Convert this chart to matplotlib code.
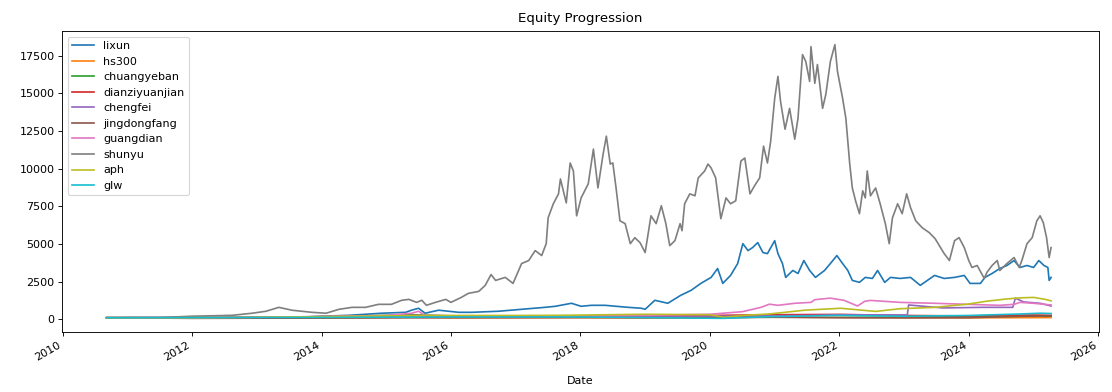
import numpy as np
import pandas as pd
from matplotlib import pyplot as plt

lixun_t = [2010.68, 2011.5, 2012.5, 2013.0, 2013.65, 2014.0, 2014.42, 2014.93, 2015.3, 2015.39,
           2015.5, 2015.6, 2015.81, 2016.12, 2016.32, 2016.73, 2017.09, 2017.45, 2017.61, 2017.86,
           2018.01, 2018.17, 2018.38, 2018.74, 2018.94, 2019.0, 2019.15, 2019.35, 2019.55, 2019.71,
           2019.86, 2020.02, 2020.12, 2020.2, 2020.32, 2020.43, 2020.51, 2020.59, 2020.66, 2020.74,
           2020.82, 2020.89, 2021.0, 2021.05, 2021.12, 2021.17, 2021.28, 2021.36, 2021.45, 2021.54,
           2021.63, 2021.77, 2021.86, 2021.96, 2022.05, 2022.13, 2022.2, 2022.31, 2022.4, 2022.51,
           2022.59, 2022.7, 2022.79, 2022.94, 2023.1, 2023.25, 2023.47, 2023.62, 2023.78, 2023.93,
           2024.02, 2024.18, 2024.25, 2024.36, 2024.48, 2024.59, 2024.7, 2024.79, 2024.9, 2025.0,
           2025.08, 2025.16, 2025.22, 2025.24, 2025.27]
lixun_v = [100, 110, 130, 150, 130, 200, 260, 400, 460, 600,
           730, 400, 600, 460, 460, 530, 660, 790, 860, 1060,
           860, 925, 925, 790, 730, 660, 1260, 1060, 1590, 1920,
           2380, 2780, 3370, 2380, 2910, 3700, 5020, 4560, 4760, 5090,
           4430, 4360, 5220, 4360, 3700, 2780, 3240, 3040, 3900, 3240,
           2780, 3240, 3700, 4230, 3700, 3240, 2580, 2450, 2780, 2710,
           3240, 2450, 2780, 2710, 2780, 2250, 2910, 2710, 2780, 2910,
           2380, 2380, 2780, 3040, 3370, 3570, 3900, 3440, 3570, 3440,
           3900, 3570, 3440, 2580, 2780]

hs300_t = [2010.68, 2012.0, 2014.0, 2015.4, 2016.0, 2018.0, 2019.0, 2021.0, 2022.0, 2024.0, 2025.27]
hs300_v = [100, 80, 75, 140, 95, 110, 85, 145, 120, 95, 110]

chuangyeban_t = [2010.68, 2012.0, 2013.5, 2015.4, 2016.0, 2018.0, 2019.0, 2020.0, 2021.0, 2022.0, 2024.0, 2025.27]
chuangyeban_v = [100, 80, 110, 300, 220, 170, 130, 200, 280, 260, 180, 210]

dianziyuanjian_t = [2010.68, 2013.0, 2015.5, 2016.0, 2018.0, 2020.0, 2021.0, 2022.0, 2023.0, 2024.0, 2025.0, 2025.27]
dianziyuanjian_v = [100, 110, 250, 180, 200, 250, 300, 320, 250, 220, 280, 260]

chengfei_t = [2010.68, 2013.0, 2015.5, 2016.0, 2018.0, 2020.0, 2021.5, 2022.0, 2023.05, 2023.07,
              2023.2, 2023.6, 2024.2, 2024.68, 2024.72, 2024.85, 2025.1, 2025.27]
chengfei_v = [100, 120, 250, 150, 150, 200, 250, 300, 280, 950,
              900, 750, 790, 790, 1400, 1150, 1060, 880]

jingdongfang_t = [2010.68, 2012.0, 2014.0, 2016.0, 2018.0, 2020.0, 2021.0, 2022.0, 2023.0, 2024.0, 2024.8, 2025.27]
jingdongfang_v = [100, 60, 80, 100, 110, 100, 130, 100, 90, 100, 200, 220]

guangdian_t = [2010.68, 2012.0, 2013.5, 2015.0, 2015.39, 2015.5, 2015.6, 2016.5, 2017.66, 2019.0,
               2020.0, 2020.5, 2020.79, 2020.92, 2021.05, 2021.31, 2021.56, 2021.62, 2021.86, 2022.07,
               2022.28, 2022.39, 2022.48, 2022.94, 2023.47, 2023.98, 2024.48, 2024.7, 2024.79, 2025.0,
               2025.27]
guangdian_v = [100, 100, 150, 250, 400, 530, 260, 200, 200, 260,
               330, 500, 790, 1000, 925, 1060, 1120, 1300, 1400, 1260,
               880, 1190, 1250, 1120, 1060, 990, 925, 990, 1120, 1060,
               950]

shunyu_t = [2010.68, 2011.0, 2011.5, 2012.0, 2012.62, 2012.93, 2013.14, 2013.34, 2013.54, 2013.85,
            2014.07, 2014.27, 2014.47, 2014.68, 2014.88, 2015.08, 2015.24, 2015.35, 2015.47, 2015.55,
            2015.62, 2015.76, 2015.92, 2016.0, 2016.16, 2016.27, 2016.43, 2016.53, 2016.62, 2016.69,
            2016.84, 2016.96, 2017.09, 2017.2, 2017.3, 2017.4, 2017.47, 2017.5, 2017.58, 2017.66,
            2017.69, 2017.78, 2017.84, 2017.89, 2017.94, 2018.01, 2018.12, 2018.2, 2018.27, 2018.35,
            2018.4, 2018.46, 2018.5, 2018.55, 2018.61, 2018.69, 2018.77, 2018.84, 2018.92, 2019.0,
            2019.09, 2019.17, 2019.25, 2019.32, 2019.38, 2019.46, 2019.54, 2019.57, 2019.61, 2019.69,
            2019.77, 2019.82, 2019.92, 2019.97, 2020.02, 2020.09, 2020.17, 2020.25, 2020.32, 2020.4,
            2020.48, 2020.54, 2020.62, 2020.69, 2020.77, 2020.83, 2020.89, 2020.94, 2021.0, 2021.05,
            2021.09, 2021.16, 2021.23, 2021.31, 2021.36, 2021.43, 2021.48, 2021.54, 2021.56, 2021.62,
            2021.66, 2021.74, 2021.79, 2021.86, 2021.93, 2021.97, 2022.05, 2022.1, 2022.16, 2022.2,
            2022.25, 2022.31, 2022.36, 2022.4, 2022.43, 2022.48, 2022.56, 2022.63, 2022.71, 2022.77,
            2022.82, 2022.9, 2022.97, 2023.04, 2023.1, 2023.18, 2023.28, 2023.39, 2023.48, 2023.62,
            2023.7, 2023.78, 2023.85, 2023.93, 2024.0, 2024.05, 2024.13, 2024.24, 2024.28, 2024.36,
            2024.44, 2024.48, 2024.59, 2024.7, 2024.78, 2024.82, 2024.9, 2024.98, 2025.05, 2025.1,
            2025.15, 2025.2, 2025.24, 2025.27]
shunyu_v = [100, 120, 110, 200, 260, 400, 530, 790, 600, 460,
            400, 660, 790, 790, 990, 990, 1260, 1320, 1120, 1260,
            925, 1120, 1320, 1120, 1450, 1720, 1850, 2250, 2970, 2580,
            2780, 2380, 3700, 3900, 4560, 4230, 5020, 6740, 7670, 8330,
            9320, 7730, 10380, 9850, 6870, 8060, 8990, 11300, 8720, 10970,
            12160, 10310, 10380, 8720, 6540, 6350, 5020, 5420, 5090, 4430,
            6870, 6350, 7540, 6350, 4890, 5220, 6350, 5880, 7670, 8330,
            8200, 9390, 9850, 10310, 10050, 9390, 6680, 8060, 7670, 7870,
            10510, 10710, 8330, 8860, 9390, 11500, 10380, 11830, 14670, 16130,
            14480, 12620, 14010, 11960, 13350, 17580, 17120, 15800, 18110, 15670,
            16920, 14010, 14940, 17120, 18240, 16460, 14670, 13350, 10310, 8720,
            7870, 7010, 8530, 8060, 9850, 8200, 8720, 7670, 6350, 5020,
            6740, 7670, 7010, 8330, 7410, 6540, 6080, 5750, 5350, 4360,
            3900, 5220, 5420, 4760, 3900, 3440, 3570, 2710, 3110, 3570,
            3900, 3240, 3700, 4100, 3440, 3900, 5020, 5420, 6540, 6870,
            6410, 5420, 4100, 4760]

aph_t = [2010.68, 2012.0, 2013.5, 2015.5, 2017.0, 2017.66, 2019.0, 2020.0, 2020.22, 2020.5,
         2020.92, 2021.46, 2022.02, 2022.56, 2022.94, 2023.47, 2023.98, 2024.28, 2024.59, 2024.79,
         2025.0, 2025.18, 2025.27]
aph_v = [100, 100, 150, 250, 250, 260, 330, 300, 130, 250,
         350, 600, 730, 520, 700, 790, 1000, 1200, 1350, 1420,
         1450, 1320, 1220]

glw_t = [2010.68, 2014.0, 2016.0, 2018.0, 2020.2, 2021.0, 2022.0, 2023.0, 2024.0, 2024.8, 2025.1, 2025.27]
glw_v = [100, 120, 150, 150, 60, 180, 250, 200, 250, 350, 400, 380]

series_names = ['lixun', 'hs300', 'chuangyeban', 'dianziyuanjian', 'chengfei',
                'jingdongfang', 'guangdian', 'shunyu', 'aph', 'glw']
series_data = [(lixun_t, lixun_v), (hs300_t, hs300_v), (chuangyeban_t, chuangyeban_v),
               (dianziyuanjian_t, dianziyuanjian_v), (chengfei_t, chengfei_v),
               (jingdongfang_t, jingdongfang_v), (guangdian_t, guangdian_v),
               (shunyu_t, shunyu_v), (aph_t, aph_v), (glw_t, glw_v)]


def to_dates(years):
    years = np.asarray(years)
    whole = np.floor(years).astype(int)
    return [pd.Timestamp(int(y), 1, 1) + pd.Timedelta(days=float(f) * 365.25)
            for y, f in zip(whole, years - whole)]


def main():
    fig, ax = plt.subplots(figsize=(13.9, 4.9), dpi=80)
    for name, (t, v) in zip(series_names, series_data):
        ax.plot(to_dates(t), v, label=name, linewidth=1.5)

    ax.set_xlim(pd.Timestamp('2009-12-30'), pd.Timestamp('2026-01-03'))
    ax.set_title('Equity Progression', pad=8)
    ax.set_xlabel('Date', labelpad=12)
    ax.legend(loc='upper left')
    plt.setp(ax.get_xticklabels(), rotation=30, ha='right')
    fig.subplots_adjust(left=0.056, right=0.988, top=0.921, bottom=0.153)
    fig.savefig('out.png')


if __name__ == "__main__":
    main()
